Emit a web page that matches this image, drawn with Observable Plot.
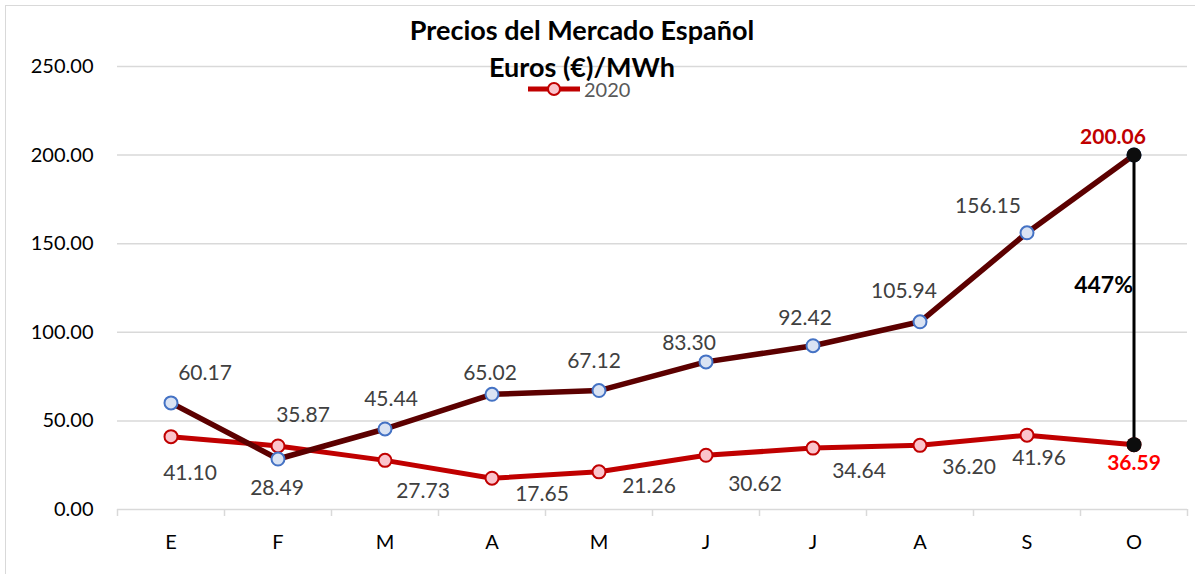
<!DOCTYPE html>
<html>
<head>
<meta charset="utf-8">
<script src="https://cdn.jsdelivr.net/npm/d3@7"></script>
<script src="https://cdn.jsdelivr.net/npm/@observablehq/plot@0.6"></script>
<style>
  html, body { margin: 0; padding: 0; background: #fff; overflow: hidden; }
  #wrap { position: relative; width: 1195px; height: 574px; font-family: Lato, "Open Sans", sans-serif; }
  #border { position: absolute; left: 5px; top: 5px; width: 1300px; height: 700px; border-left: 1px solid #d9d9d9; border-top: 1px solid #d9d9d9; }
  #chart { position: absolute; left: 0; top: 0; }
  .title { position: absolute; left: 332px; width: 500px; text-align: center; font-weight: bold; font-size: 27px; line-height: 27px; color: #000; }
  #legend { position: absolute; left: 527px; top: 78px; height: 22px; display: flex; align-items: center; }
  #legend span { font-size: 20px; line-height: 20px; color: #595959; margin-left: 3px; }
</style>
</head>
<body>
<div id="wrap">
  <div id="border"></div>
  <div id="chart"></div>
  <div class="title" id="t1" style="top:16px"></div>
  <div class="title" id="t2" style="top:53px"></div>
  <div id="legend"></div>
</div>
<script>
// ---- data ----
const months = ["E", "F", "M", "A", "M", "J", "J", "A", "S", "O"];
const p2021 = [60.17, 28.49, 45.44, 65.02, 67.12, 83.30, 92.42, 105.94, 156.15, 200.06];
const p2020 = [41.10, 35.87, 27.73, 17.65, 21.26, 30.62, 34.64, 36.20, 41.96, 36.59];
const yTicks = [0, 50, 100, 150, 200, 250];
const titleLines = ["Precios del Mercado Español", "Euros (€)/MWh"];
const legendLabel = "2020";
const changeLabel = "447%";

// ---- label placement (pixel offsets, styling only) ----
const off2021 = [[34,-30],[-1,29],[6,-30],[-2,-21],[-5,-29],[-17,-19],[-8,-27],[-16,-31],[-39,-27],[-21,-18]];
const off2020 = [[19,37],[25,-31],[38,31],[50,16],[50,14],[49,29],[46,23],[49,22],[12,23],[0,19]];

const idx = d3.range(months.length);
const last = idx.length - 1;

const labelMarks = [];
idx.forEach(i => {
  const isLast = i === last;
  labelMarks.push(Plot.text([i], {
    x: d => d, y: d => p2021[d], text: d => p2021[d].toFixed(2),
    dx: off2021[i][0], dy: off2021[i][1],
    fontSize: 21, fill: isLast ? "#c00000" : "#404040", fontWeight: isLast ? "bold" : "normal"
  }));
  labelMarks.push(Plot.text([i], {
    x: d => d, y: d => p2020[d], text: d => p2020[d].toFixed(2),
    dx: off2020[i][0], dy: off2020[i][1],
    fontSize: 21, fill: isLast ? "#ff0000" : "#404040", fontWeight: isLast ? "bold" : "normal"
  }));
});

const chart = Plot.plot({
  width: 1195,
  height: 574,
  marginTop: 66,
  marginBottom: 65,
  marginLeft: 117,
  marginRight: 8,
  style: { fontFamily: "Lato, 'Open Sans', sans-serif", fontSize: "20px", background: "transparent", overflow: "visible", color: "#000" },
  x: { type: "linear", domain: [-0.5, months.length - 0.5], label: null },
  y: { domain: [0, 250], label: null },
  marks: [
    Plot.gridY(yTicks.filter(d => d > 0), { stroke: "#d9d9d9", strokeOpacity: 1, strokeWidth: 1.5 }),
    Plot.ruleY([0], { stroke: "#d9d9d9", strokeWidth: 1.5 }),
    Plot.axisX(d3.range(-0.5, months.length, 1), { tickSize: 7, stroke: "#d9d9d9", strokeWidth: 1.5, tickFormat: () => "", label: null }),
    Plot.axisX(idx, { tickSize: 0, tickPadding: 25, tickFormat: i => months[i], fill: "#000", label: null, fontSize: 20 }),
    Plot.axisY(yTicks, { tickSize: 0, tickPadding: 24, tickFormat: d => d.toFixed(2), fill: "#000", label: null, fontSize: 20 }),
    Plot.line(idx, { x: d => d, y: d => p2020[d], stroke: "#c00000", strokeWidth: 5 }),
    Plot.line(idx, { x: d => d, y: d => p2021[d], stroke: "#5c0000", strokeWidth: 5.5 }),
    Plot.dot(idx, { x: d => d, y: d => p2020[d], r: 6.5, fill: "#fbc4cc", stroke: "#c00000", strokeWidth: 2 }),
    Plot.dot(idx, { x: d => d, y: d => p2021[d], r: 6.5, fill: "#dae3f3", stroke: "#4472c4", strokeWidth: 2 }),
    Plot.ruleX([last], { y1: p2020[last], y2: p2021[last], stroke: "#000", strokeWidth: 3 }),
    Plot.dot([p2020[last], p2021[last]], { x: () => last, y: d => d, r: 7.5, fill: "#0d0d0d" }),
    Plot.text([last], { x: d => d, y: () => (p2020[last] + p2021[last]) / 2, text: () => changeLabel,
      textAnchor: "end", dx: -1, dy: -14, fontSize: 23, fontWeight: "bold", fill: "#000" }),
    ...labelMarks
  ]
});
document.getElementById("chart").appendChild(chart);

document.getElementById("t1").textContent = titleLines[0];
document.getElementById("t2").textContent = titleLines[1];

// legend
const lg = document.getElementById("legend");
const ns = "http://www.w3.org/2000/svg";
const sw = document.createElementNS(ns, "svg");
sw.setAttribute("width", 54); sw.setAttribute("height", 20);
const ln = document.createElementNS(ns, "line");
ln.setAttribute("x1", 1); ln.setAttribute("x2", 53); ln.setAttribute("y1", 10); ln.setAttribute("y2", 10);
ln.setAttribute("stroke", "#c00000"); ln.setAttribute("stroke-width", 5);
const ci = document.createElementNS(ns, "circle");
ci.setAttribute("cx", 27); ci.setAttribute("cy", 10); ci.setAttribute("r", 6);
ci.setAttribute("fill", "#fbc4cc"); ci.setAttribute("stroke", "#c00000"); ci.setAttribute("stroke-width", 2);
sw.appendChild(ln); sw.appendChild(ci);
lg.appendChild(sw);
const lt = document.createElement("span");
lt.textContent = legendLabel;
lg.appendChild(lt);
</script>
</body>
</html>
